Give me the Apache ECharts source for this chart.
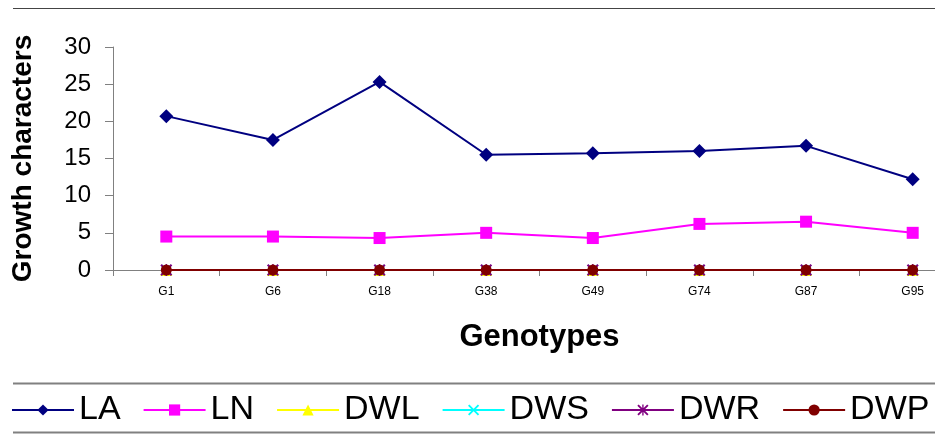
<!DOCTYPE html>
<html>
<head>
<meta charset="utf-8">
<script src="https://cdn.jsdelivr.net/npm/echarts@6/dist/echarts.min.js"></script>
<style>html,body{margin:0;padding:0;background:#fff;}#c{width:935px;height:437px;}</style>
</head>
<body>
<div id="c"></div>
<script>
var categories = ['G1','G6','G18','G38','G49','G74','G87','G95'];
var LA  = [20.7, 17.5, 25.3, 15.5, 15.7, 16.0, 16.7, 12.2];
var LN  = [4.5, 4.5, 4.3, 5.0, 4.3, 6.2, 6.5, 5.0];
var DWL = [0, 0, 0, 0, 0, 0, 0, 0];
var DWS = [0, 0, 0, 0, 0, 0, 0, 0];
var DWR = [0, 0, 0, 0, 0, 0, 0, 0];
var DWP = [0, 0, 0, 0, 0, 0, 0, 0];
var yTicks = [0, 5, 10, 15, 20, 25, 30];

var FONT = '"Liberation Sans", Arial, sans-serif';
var xPath = 'path://M0,1.2L1.2,0L5,3.8L8.8,0L10,1.2L6.2,5L10,8.8L8.8,10L5,6.2L1.2,10L0,8.8L3.8,5Z';
var starPath = 'path://M0,1.2L1.2,0L5,3.8L8.8,0L10,1.2L6.2,5L10,8.8L8.8,10L5,6.2L1.2,10L0,8.8L3.8,5Z M4.4,0H5.6V10H4.4Z';

function mk(name, data, color, symbol, size, z) {
  return {
    name: name, type: 'line', data: data, symbol: symbol, symbolSize: size,
    showAllSymbol: true, z: z,
    lineStyle: {color: color, width: 2},
    itemStyle: {color: color, borderWidth: 0},
    emphasis: {disabled: true},
    animation: false
  };
}

var chart = echarts.init(document.getElementById('c'), null, {renderer: 'canvas'});
chart.setOption({
  animation: false,
  backgroundColor: '#fff',
  grid: {left: 113, top: 47, height: 223, width: 853, outerBoundsMode: 'none', containLabel: false},
  xAxis: {
    type: 'category', data: categories, boundaryGap: true,
    name: 'Genotypes', nameLocation: 'middle', nameGap: 52,
    nameTextStyle: {fontFamily: FONT, fontSize: 31, fontWeight: 'bold', color: '#000'},
    axisLine: {lineStyle: {color: '#808080', width: 1}},
    axisTick: {show: true, interval: 0, length: 6, lineStyle: {color: '#808080'}},
    axisLabel: {fontFamily: FONT, fontSize: 12, color: '#000', margin: 16}
  },
  yAxis: {
    type: 'value', min: 0, max: 30, interval: 5,
    name: 'Growth characters', nameLocation: 'middle', nameGap: 76,
    nameTextStyle: {fontFamily: FONT, fontSize: 28, fontWeight: 'bold', color: '#000'},
    axisLine: {show: true, lineStyle: {color: '#808080', width: 1}},
    axisTick: {show: true, length: 8, lineStyle: {color: '#808080'}},
    splitLine: {show: false},
    axisLabel: {fontFamily: FONT, fontSize: 24, color: '#000', margin: 22,
      formatter: function (v) { return yTicks.indexOf(v) >= 0 ? String(v) : ''; }}
  },
  legend: {
    left: 11, top: 393, width: 924, itemWidth: 62, itemHeight: 14, itemGap: 22,
    padding: 0,
    textStyle: {fontFamily: FONT, fontSize: 34, color: '#000'},
    data: ['LA','LN','DWL','DWS','DWR','DWP']
  },
  graphic: [
    {type: 'line', shape: {x1: 13, y1: 8.5, x2: 935, y2: 8.5}, style: {stroke: '#444', lineWidth: 1}},
    {type: 'line', shape: {x1: 13, y1: 383.5, x2: 935, y2: 383.5}, style: {stroke: '#808080', lineWidth: 2}},
    {type: 'line', shape: {x1: 13, y1: 432.5, x2: 935, y2: 432.5}, style: {stroke: '#808080', lineWidth: 2}}
  ],
  series: [
    mk('LA', LA, '#000080', 'diamond', 14, 2),
    mk('LN', LN, '#FF00FF', 'rect', 12, 2),
    mk('DWL', DWL, '#FFFF00', 'triangle', 12, 2),
    mk('DWS', DWS, '#00FFFF', xPath, 11, 2),
    mk('DWR', DWR, '#800080', starPath, 12, 2),
    mk('DWP', DWP, '#800000', 'circle', 11, 3)
  ]
});
</script>
</body>
</html>
